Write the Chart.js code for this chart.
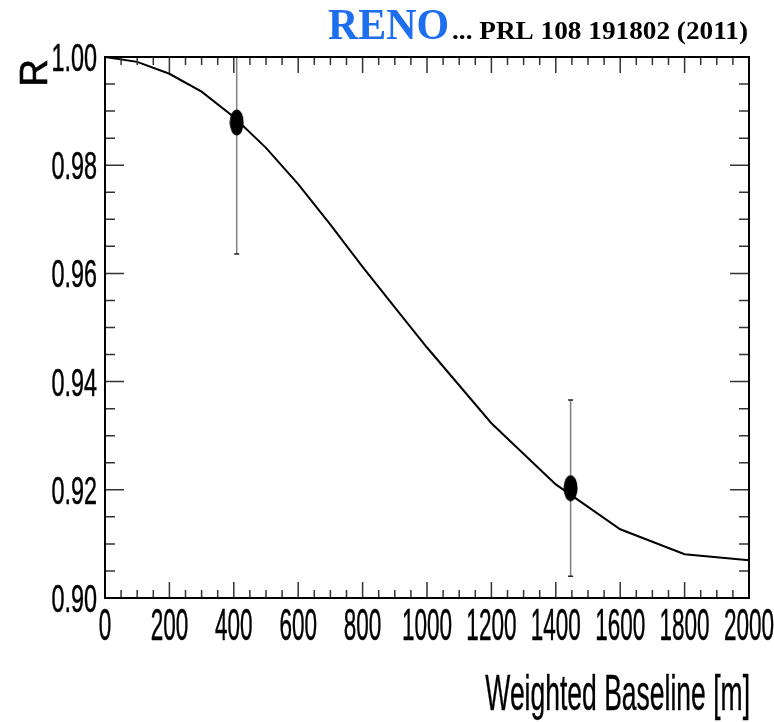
<!DOCTYPE html>
<html>
<head>
<meta charset="utf-8">
<script src="https://cdn.jsdelivr.net/npm/chart.js@4.4.1/dist/chart.umd.min.js"></script>
<style>
  html, body { margin:0; padding:0; background:#fff; }
  #c { display:block; }
</style>
</head>
<body>
<canvas id="c" width="774" height="722"></canvas>
<script>
// expected ratio curve vs weighted baseline
var curveX = [0, 100, 200, 300, 400, 500, 600, 700, 800, 900, 1000, 1200, 1400, 1600, 1800, 2000];
var curveR = [1.0000, 0.9991, 0.9969, 0.9936, 0.9889, 0.9832, 0.9765, 0.9690, 0.9612, 0.9537, 0.9463, 0.9323, 0.9210, 0.9127, 0.9081, 0.9070];

// RENO near / far detector measurements
var measX = [409, 1446];
var measR = [0.9879, 0.9203];
var measErr = [0.0243, 0.0163];

var xTickLabels = ['0','200','400','600','800','1000','1200','1400','1600','1800','2000'];
var yTickLabels = ['0.90','0.92','0.94','0.96','0.98','1.00'];

// ellipse marker
var dot = document.createElement('canvas');
dot.width = 15; dot.height = 27;
(function(){
  var g = dot.getContext('2d');
  g.fillStyle = '#000';
  g.beginPath();
  g.ellipse(7.5, 13.5, 7, 13, 0, 0, Math.PI*2);
  g.fill();
})();

// draw text squeezed horizontally; w = target width (or null to use sx)
function txt(ctx, s, x, y, font, sx, align, color, bold, w){
  ctx.save();
  ctx.font = font;
  if(w) sx = w / ctx.measureText(s).width;
  ctx.fillStyle = color || '#000';
  ctx.strokeStyle = color || '#000';
  ctx.textAlign = align || 'left';
  ctx.textBaseline = 'alphabetic';
  ctx.translate(x, y);
  ctx.scale(sx, 1);
  ctx.fillText(s, 0, 0);
  if(bold){ ctx.lineWidth = bold; ctx.strokeText(s, 0, 0); }
  ctx.restore();
}

var errBars = {
  id:'errBars',
  beforeDatasetsDraw: function(chart){
    var ctx = chart.ctx, a = chart.chartArea;
    var xs = chart.scales.x, ys = chart.scales.y;
    ctx.save();
    ctx.beginPath(); ctx.rect(a.left, a.top, a.right-a.left, a.bottom-a.top); ctx.clip();
    measX.forEach(function(v, i){
      var px = xs.getPixelForValue(v);
      var top = ys.getPixelForValue(measR[i] + measErr[i]);
      var bot = ys.getPixelForValue(measR[i] - measErr[i]);
      ctx.strokeStyle = '#808080'; ctx.lineWidth = 1.5;
      ctx.beginPath(); ctx.moveTo(px, top); ctx.lineTo(px, bot); ctx.stroke();
      ctx.strokeStyle = '#222';
      ctx.beginPath();
      ctx.moveTo(px-2.5, top); ctx.lineTo(px+2.5, top);
      ctx.moveTo(px-2.5, bot); ctx.lineTo(px+2.5, bot);
      ctx.stroke();
    });
    ctx.restore();
  }
};

var frame = {
  id:'frame',
  afterDraw: function(chart){
    var ctx = chart.ctx, a = chart.chartArea;
    var xs = chart.scales.x, ys = chart.scales.y;
    ctx.save();
    ctx.strokeStyle = '#333'; ctx.lineWidth = 1.5;
    var i, p, len;
    for(i = 0; i <= 40; i++){
      p = xs.getPixelForValue(i*50);
      len = (i % 4 === 0) ? 16 : 8;
      ctx.beginPath();
      ctx.moveTo(p, a.bottom); ctx.lineTo(p, a.bottom - len);
      ctx.moveTo(p, a.top); ctx.lineTo(p, a.top + len);
      ctx.stroke();
    }
    for(i = 0; i <= 20; i++){
      p = ys.getPixelForValue(0.90 + i*0.005);
      len = (i % 4 === 0) ? 19 : 10;
      ctx.beginPath();
      ctx.moveTo(a.left, p); ctx.lineTo(a.left + len, p);
      ctx.moveTo(a.right, p); ctx.lineTo(a.right - len, p);
      ctx.stroke();
    }
    ctx.strokeStyle = '#000'; ctx.lineWidth = 2;
    ctx.strokeRect(a.left, a.top, a.right - a.left, a.bottom - a.top);
    ctx.restore();

    var sans = 'Liberation Sans, Arial, sans-serif';
    xTickLabels.forEach(function(l){
      txt(ctx, l, xs.getPixelForValue(+l), 640, '45px ' + sans, 0.5, 'center', '#000', 0.5);
    });
    yTickLabels.forEach(function(l){
      txt(ctx, l, 97, ys.getPixelForValue(+l) + 14, '39px ' + sans, 0.6, 'right', '#000', 0.5);
    });
    txt(ctx, 'Weighted Baseline [m]', 750, 710, '50px ' + sans, 0.53, 'right', '#000', 0.4);

    ctx.save();
    ctx.translate(47, 59);
    ctx.rotate(-Math.PI/2);
    ctx.font = '38px ' + sans;
    ctx.fillStyle = '#000'; ctx.strokeStyle = '#000'; ctx.lineWidth = 0.6;
    ctx.textAlign = 'right';
    ctx.fillText('R', 0, 0);
    ctx.strokeText('R', 0, 0);
    ctx.restore();

    txt(ctx, 'RENO', 328, 39, 'bold 44px Liberation Serif, serif', 1, 'left', '#1e6ef0', 0, 121);
    txt(ctx, '... PRL 108 191802 (2011)', 452, 39, 'bold 26px Liberation Serif, serif', 1, 'left', '#000', 0, 296);
  }
};

new Chart(document.getElementById('c'), {
  type:'line',
  data:{
    datasets:[
      { type:'line', data: curveX.map(function(x, i){ return {x:x, y:curveR[i]}; }),
        borderColor:'#000', borderWidth:2, pointRadius:0, tension:0, fill:false },
      { type:'scatter', data: measX.map(function(x, i){ return {x:x, y:measR[i]}; }),
        pointStyle: dot, pointRadius:8, backgroundColor:'#000', borderColor:'#000' }
    ]
  },
  options:{
    responsive:false,
    animation:false,
    layout:{ padding:{ left:105, top:57, right:25, bottom:124 } },
    plugins:{ legend:{ display:false }, tooltip:{ enabled:false } },
    scales:{
      x:{ type:'linear', min:0, max:2000, display:false },
      y:{ type:'linear', min:0.90, max:1.00, display:false }
    }
  },
  plugins:[errBars, frame]
});
</script>
</body>
</html>
